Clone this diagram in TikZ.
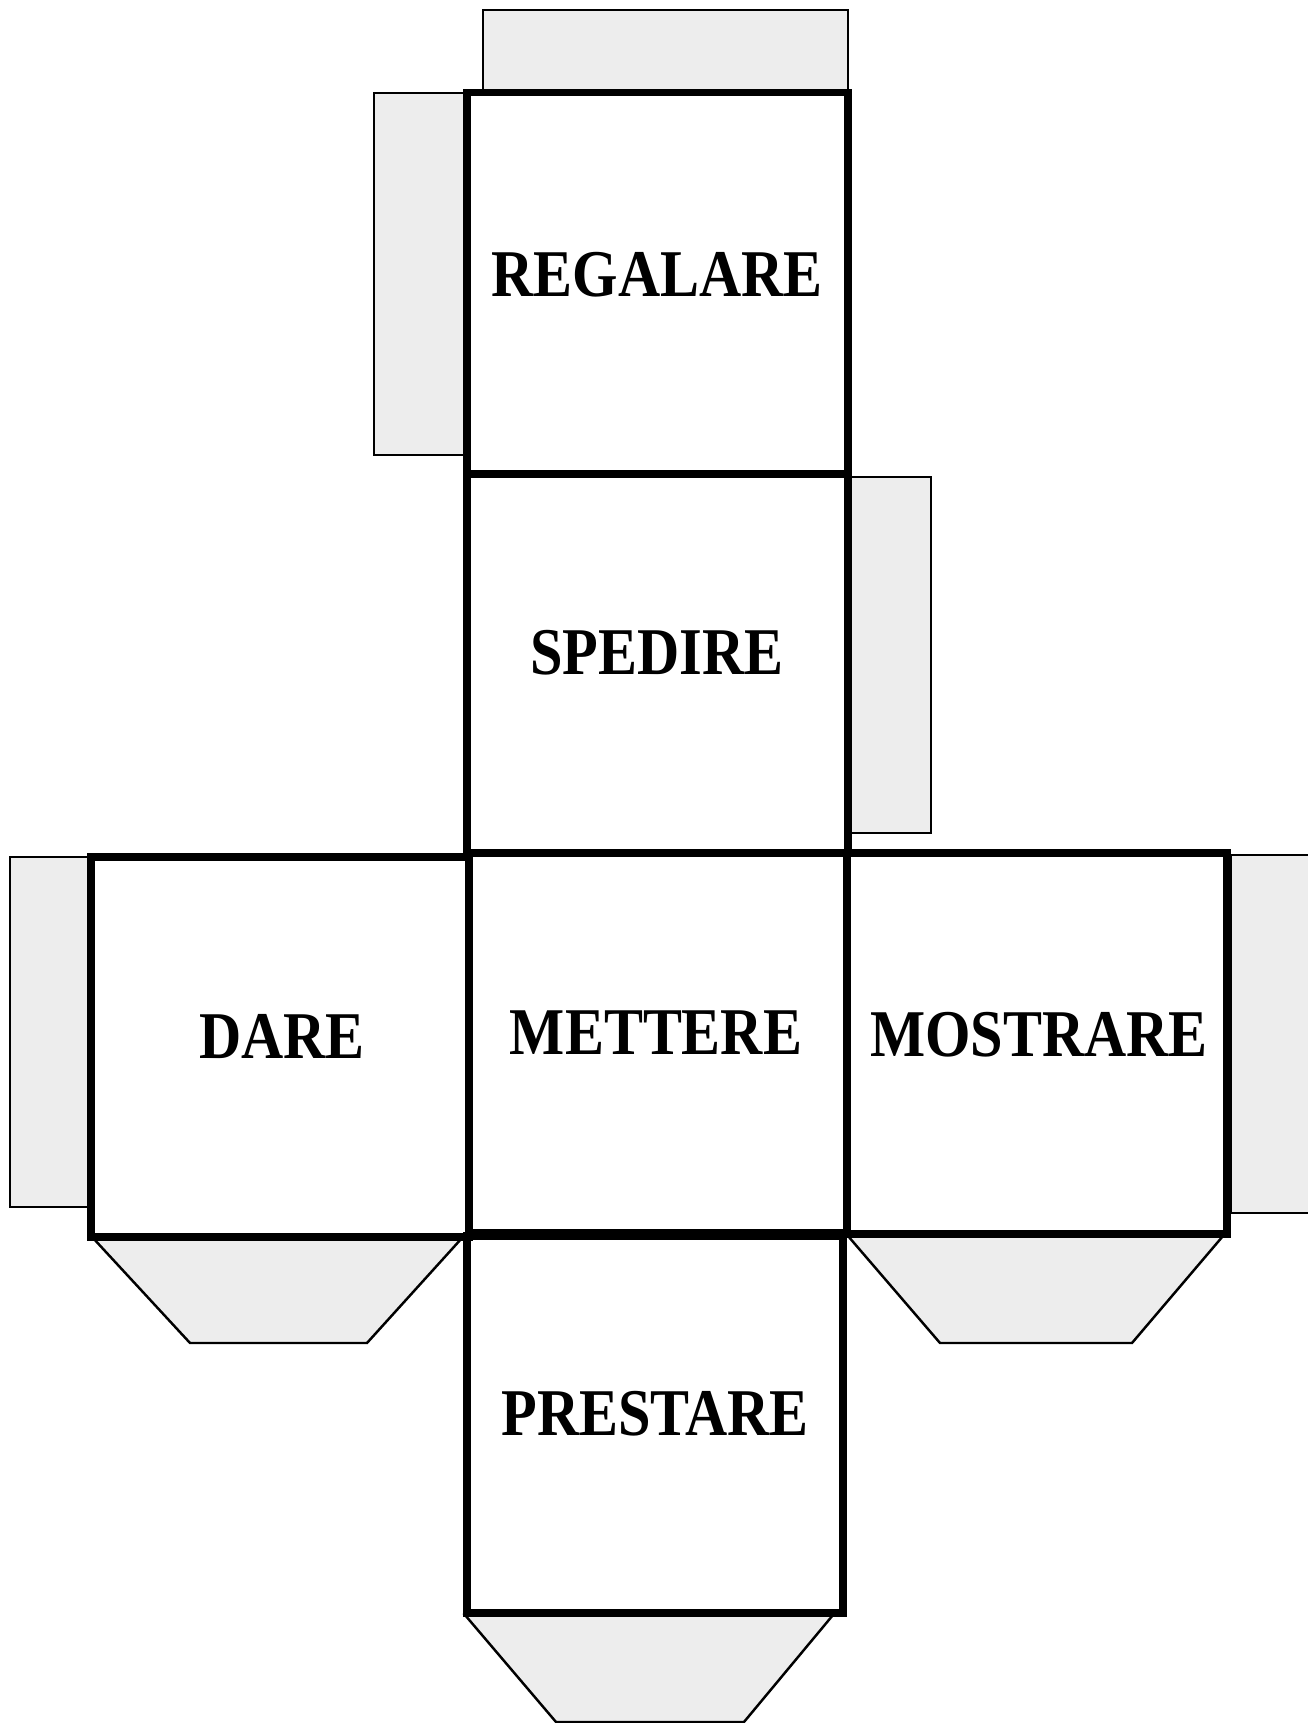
\documentclass[tikz,border=0pt]{standalone}
\usepackage{fontspec}
\usepackage{xcolor}
\newfontfamily\verbfont{Liberation Serif}[FakeStretch=0.875]
\definecolor{flapgray}{RGB}{237,237,237}
\usetikzlibrary{calc}

\begin{document}
\begin{tikzpicture}[
  face/.style={line width=2pt, line join=miter},
  flap/.style={draw=black, line width=0.7pt, fill=flapgray},
  verb/.style={anchor=base, inner sep=0pt, font=\verbfont\fontsize{19}{22}\selectfont\bfseries}]
  \useasboundingbox (0,0) rectangle (13.07,17.23);
  % Glue flaps
  \draw[flap] (4.83,16.30) rectangle (8.48,17.13);
  \draw[flap] (3.74,12.68) rectangle (4.67,16.30);
  \draw[flap] (8.48,8.90) rectangle (9.31,12.46);
  \draw[flap] (0.10,5.16) rectangle (0.91,8.66);
  \draw[flap] (12.31,5.10) rectangle (13.15,8.68);
  \draw[flap] (0.93,4.85) -- (4.62,4.85) -- (3.67,3.80) -- (1.90,3.80) -- cycle;
  \draw[flap] (8.48,4.87) -- (12.23,4.87) -- (11.32,3.80) -- (9.40,3.80) -- cycle;
  \draw[flap] (4.65,1.08) -- (8.33,1.08) -- (7.44,0.01) -- (5.56,0.01) -- cycle;
  % Cube faces
  \draw[face] (4.67,12.49) rectangle (8.48,16.30);
  \draw[face] (4.67,8.70) rectangle (8.48,12.49);
  \draw[face] (0.91,4.86) rectangle (4.69,8.66);
  \draw[face] (4.69,4.90) rectangle (8.47,8.70);
  \draw[face] (8.47,4.89) rectangle (12.27,8.70);
  \draw[face] (4.67,1.10) rectangle (8.43,4.87);
  % Verbs
  \node[verb] (regalare) at (6.57,14.26) {REGALARE};
  \node[verb] (spedire) at (6.57,10.48) {SPEDIRE};
  \node[verb] (dare) at (2.82,6.64) {DARE};
  \node[verb] (mettere) at (6.56,6.68) {METTERE};
  \node[verb] (mostrare) at (10.39,6.66) {MOSTRARE};
  \node[verb] (prestare) at (6.55,2.87) {PRESTARE};
\end{tikzpicture}
\end{document}
